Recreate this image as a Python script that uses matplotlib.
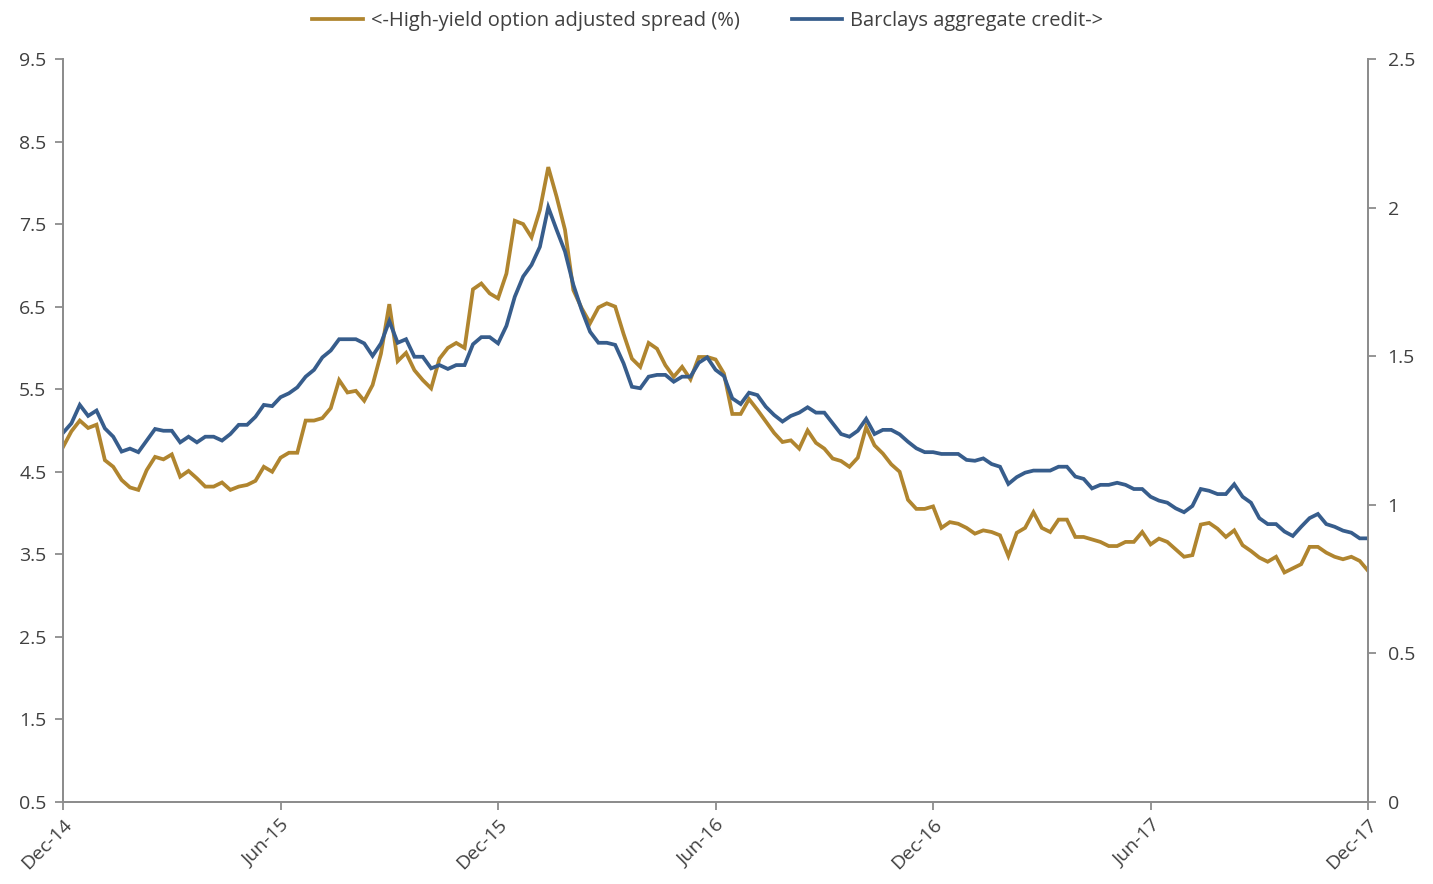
import numpy as np
import matplotlib.pyplot as plt
from matplotlib.ticker import FormatStrFormatter, FuncFormatter

plt.rcParams['font.family'] = ['Open Sans', 'DejaVu Sans']

# weekly observations, Dec-14 .. Dec-17
hy_oas = [4.80, 4.99, 5.12, 5.03, 5.07, 4.64, 4.56, 4.40, 4.31, 4.28, 4.52, 4.68, 4.65, 4.71,
          4.44, 4.51, 4.42, 4.32, 4.32, 4.37, 4.28, 4.32, 4.34, 4.39, 4.56, 4.50, 4.67,
          4.73, 4.73, 5.12, 5.12, 5.15, 5.27, 5.61, 5.46, 5.48, 5.36, 5.55, 5.93, 6.53,
          5.84, 5.94, 5.73, 5.61, 5.51, 5.87, 6.00, 6.06, 6.00, 6.71, 6.78, 6.66, 6.60,
          6.90, 7.54, 7.50, 7.34, 7.67, 8.19, 7.83, 7.43, 6.70, 6.48, 6.30, 6.49, 6.54,
          6.50, 6.17, 5.87, 5.77, 6.06, 5.99, 5.79, 5.65, 5.77, 5.62, 5.89, 5.89, 5.86,
          5.69, 5.20, 5.20, 5.38, 5.25, 5.11, 4.97, 4.86, 4.88, 4.78, 5.00, 4.85, 4.78,
          4.66, 4.63, 4.56, 4.67, 5.04, 4.82, 4.72, 4.59, 4.50, 4.16, 4.05, 4.05, 4.08,
          3.82, 3.89, 3.87, 3.82, 3.75, 3.79, 3.77, 3.73, 3.48, 3.76, 3.82, 4.01, 3.82,
          3.77, 3.92, 3.92, 3.71, 3.71, 3.68, 3.65, 3.60, 3.60, 3.65, 3.65, 3.77,
          3.62, 3.69, 3.65, 3.56, 3.47, 3.49, 3.86, 3.88, 3.81, 3.71, 3.79, 3.61, 3.54,
          3.46, 3.41, 3.47, 3.28, 3.33, 3.38, 3.59, 3.59, 3.52, 3.47, 3.44, 3.47, 3.42, 3.30]

agg_credit = [1.242, 1.274, 1.336, 1.299, 1.317, 1.257, 1.229, 1.179, 1.189, 1.177, 1.216,
              1.255, 1.249, 1.249, 1.210, 1.229, 1.210, 1.229, 1.229, 1.216, 1.238, 1.269,
              1.269, 1.296, 1.336, 1.332, 1.362,
              1.375, 1.395, 1.431, 1.454, 1.496, 1.519, 1.557, 1.557, 1.557, 1.543, 1.501,
              1.543, 1.618, 1.545, 1.557, 1.498, 1.498, 1.459, 1.470, 1.457, 1.470, 1.470,
              1.540, 1.564, 1.564, 1.543,
              1.602, 1.700, 1.768, 1.807, 1.868, 2.001, 1.925, 1.852, 1.740, 1.655, 1.582,
              1.545, 1.545, 1.538, 1.476, 1.397, 1.392, 1.431, 1.437, 1.437, 1.414, 1.431,
              1.431, 1.478, 1.496, 1.454,
              1.433, 1.358, 1.339, 1.377, 1.369, 1.330, 1.302, 1.280, 1.299, 1.310, 1.328,
              1.310, 1.310, 1.274, 1.238, 1.229, 1.249, 1.289, 1.238, 1.252, 1.252, 1.237,
              1.212, 1.190, 1.177, 1.177,
              1.171, 1.171, 1.171, 1.151, 1.148, 1.156, 1.137, 1.128, 1.070, 1.093, 1.108,
              1.115, 1.115, 1.115, 1.128, 1.128, 1.095, 1.087, 1.055, 1.067, 1.067, 1.074,
              1.067, 1.053, 1.053,
              1.027, 1.014, 1.007, 0.988, 0.975, 0.996, 1.053, 1.047, 1.036, 1.036, 1.069,
              1.027, 1.007, 0.955, 0.935, 0.935, 0.910, 0.895, 0.926, 0.955, 0.969, 0.935,
              0.926, 0.913, 0.906, 0.887, 0.887]

tick_labels = ["Dec-14", "Jun-15", "Dec-15", "Jun-16", "Dec-16", "Jun-17", "Dec-17"]

gold = '#B0852F'
blue = '#375D8C'
grey = '#8C8C8C'
txt = '#404040'

x = np.arange(len(hy_oas))

fig = plt.figure(figsize=(14.33, 8.84), dpi=100)
ax = fig.add_axes([0.044, 0.0928, 0.9107, 0.8405])
ax2 = ax.twinx()

l1, = ax.plot(x, hy_oas, color=gold, lw=2.7, solid_joinstyle='miter',
              label='<-High-yield option adjusted spread (%)')
l2, = ax2.plot(x, agg_credit, color=blue, lw=2.7, solid_joinstyle='miter',
               label='Barclays aggregate credit->')

ax.set_xlim(0, len(x) - 1)
ax.set_ylim(0.5, 9.5)
ax.set_yticks(np.arange(0.5, 9.6, 1.0))
ax.yaxis.set_major_formatter(FormatStrFormatter('%.1f'))
ax2.set_ylim(0, 2.5)
ax2.set_yticks(np.arange(0, 2.51, 0.5))
ax2.yaxis.set_major_formatter(FuncFormatter(lambda v, p: '%g' % v))

ax.set_xticks(np.linspace(0, len(x) - 1, len(tick_labels)))
ax.set_xticklabels(tick_labels, rotation=45, ha='right', rotation_mode='anchor')

for a in (ax, ax2):
    a.spines['top'].set_visible(False)
    for s in ('left', 'right', 'bottom'):
        a.spines[s].set_color(grey)
        a.spines[s].set_linewidth(1.3)
    a.tick_params(colors=grey, labelcolor=txt, labelsize=14, length=6, width=1.3)
ax.tick_params(axis='y', pad=6)
ax2.tick_params(axis='y', pad=8)
ax.tick_params(axis='x', pad=4)

fig.legend(handles=[l1, l2], loc='upper center', bbox_to_anchor=(0.494, 1.008), ncol=2,
           frameon=False, fontsize=14.5, labelcolor=txt, handlelength=2.5,
           columnspacing=2.6, handletextpad=0.4)

fig.savefig('out.png', dpi=100)
